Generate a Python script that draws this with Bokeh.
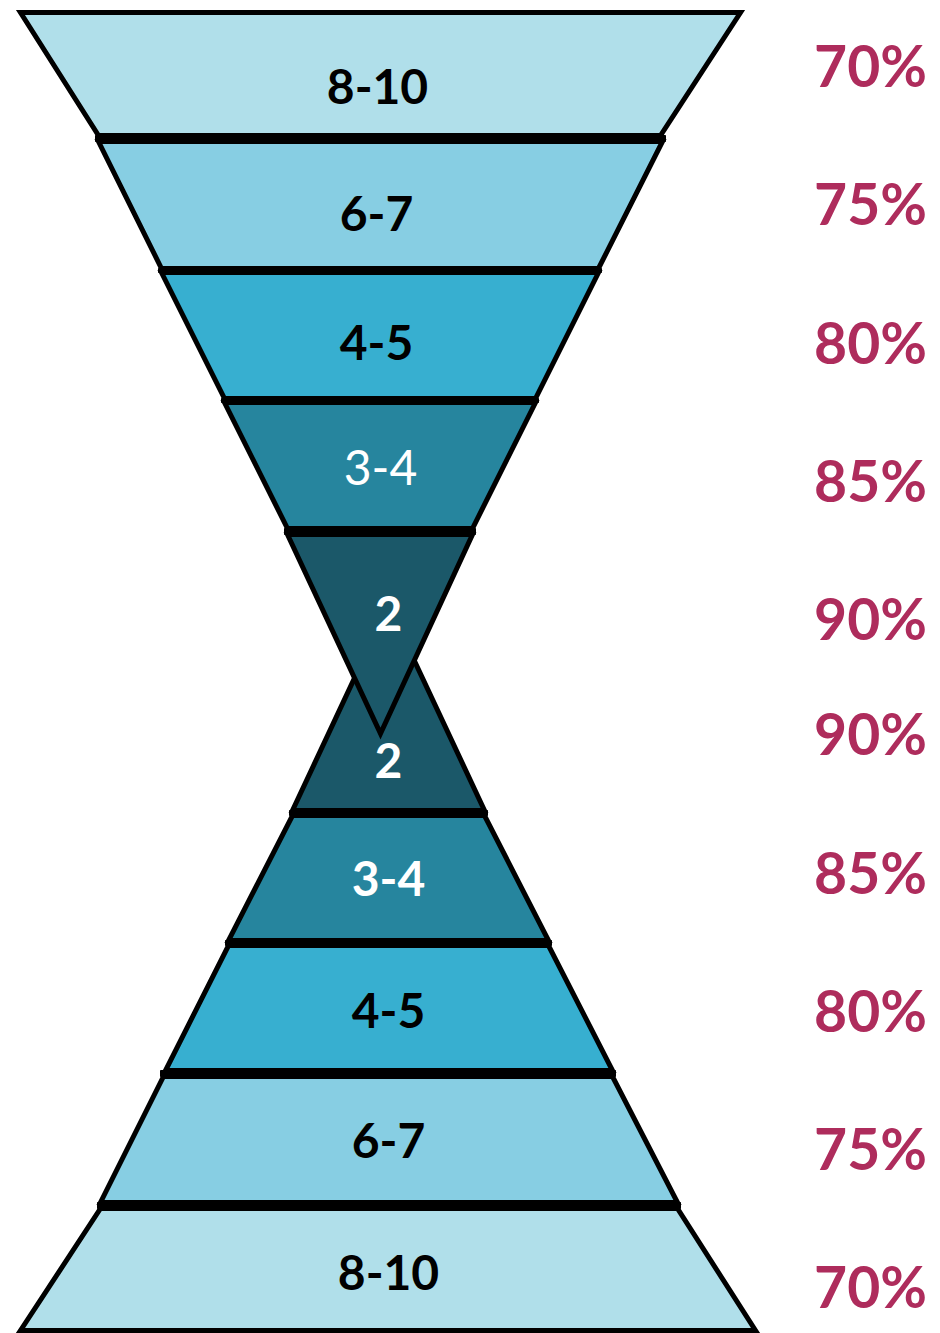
from bokeh.plotting import figure
from bokeh.models import ColumnDataSource, Range1d
from bokeh.core.properties import value
from bokeh.embed import file_html
from bokeh.resources import INLINE

# ---- data ----
top_labels = ["8-10", "6-7", "4-5", "3-4", "2"]
bottom_labels = ["2", "3-4", "4-5", "6-7", "8-10"]
top_percents = ["70%", "75%", "80%", "85%", "90%"]
bottom_percents = ["90%", "85%", "80%", "75%", "70%"]

# ---- styles ----
top_fill = ["#B0DFEA", "#87CEE3", "#37AFD0", "#26859E", "#1B5869"]
bottom_fill = ["#1B5869", "#26859E", "#37AFD0", "#87CEE3", "#B0DFEA"]
top_text_color = ["black", "black", "black", "white", "white"]
bottom_text_color = ["white", "white", "black", "black", "black"]
top_text_style = ["bold", "bold", "bold", "normal", "bold"]
bottom_text_style = ["bold", "bold", "bold", "bold", "bold"]
pct_color = "#AE2C5C"

# ---- layout (pixel space) ----
up_y = [(12, 135), (141, 268), (272, 398), (402, 528), (534, 733)]
up_x_top = [(20, 740), (98, 662), (161, 598), (224, 535), (287, 472)]
up_x_bot = [(98, 660), (161, 598), (224, 535), (287, 472), (380, 380)]
up_label_xy = [(377, 86), (376, 213), (376, 342), (380, 467), (388, 613)]
lo_y = [(605, 810), (815, 940), (945, 1070), (1076, 1202), (1208, 1330)]
lo_x_top = [(388, 388), (292, 484), (228, 548), (163, 612), (100, 677)]
lo_x_bot = [(292, 484), (228, 548), (165, 612), (100, 677), (20, 755)]
lo_label_xy = [(388, 760), (388, 878), (388, 1010), (388, 1140), (388, 1272)]
pct_y_top = [64, 202, 341, 479, 617]
pct_y_bot = [732, 871, 1009, 1147, 1285]
pct_x = 870


def polys(ys, xt, xb):
    xs_all, ys_all = [], []
    for (y0, y1), (a0, a1), (b0, b1) in zip(ys, xt, xb):
        if a0 == a1:
            xs_all.append([a0, b1, b0]); ys_all.append([y0, y1, y1])
        elif b0 == b1:
            xs_all.append([a0, a1, b0]); ys_all.append([y0, y0, y1])
        else:
            xs_all.append([a0, a1, b1, b0]); ys_all.append([y0, y0, y1, y1])
    return xs_all, ys_all


def bars(ys, xt, xb):
    bx, by = [], []
    for i in range(len(ys) - 1):
        y0 = ys[i][1]
        y1 = ys[i + 1][0]
        l = min(xb[i][0], xt[i + 1][0]) - 3
        r = max(xb[i][1], xt[i + 1][1]) + 3
        bx.append([l, r, r, l]); by.append([y0, y0, y1, y1])
    return bx, by


p = figure(width=940, height=1333, output_backend="svg", toolbar_location=None,
           x_range=Range1d(0, 940), y_range=Range1d(1333, 0), min_border=0)
p.axis.visible = False
p.grid.visible = False
p.outline_line_color = None
p.background_fill_color = "white"

lx, ly = polys(lo_y, lo_x_top, lo_x_bot)
ux, uy = polys(up_y, up_x_top, up_x_bot)

lo_src = ColumnDataSource(dict(xs=lx, ys=ly, fill=bottom_fill))
up_src = ColumnDataSource(dict(xs=ux, ys=uy, fill=top_fill))
p.patches("xs", "ys", source=lo_src, fill_color="fill", line_color="black",
          line_width=5, line_join="miter")
lbx, lby = bars(lo_y, lo_x_top, lo_x_bot)
p.patches(lbx, lby, fill_color="black", line_color="black", line_width=1)
p.patches("xs", "ys", source=up_src, fill_color="fill", line_color="black",
          line_width=5, line_join="miter")
ubx, uby = bars(up_y, up_x_top, up_x_bot)
p.patches(ubx, uby, fill_color="black", line_color="black", line_width=1)

up_t = ColumnDataSource(dict(x=[a for a, b in up_label_xy], y=[b for a, b in up_label_xy],
                             t=top_labels, c=top_text_color, s=top_text_style))
lo_t = ColumnDataSource(dict(x=[a for a, b in lo_label_xy], y=[b for a, b in lo_label_xy],
                             t=bottom_labels, c=bottom_text_color, s=bottom_text_style))
for src in (up_t, lo_t):
    p.text("x", "y", text="t", source=src, text_color="c", text_font_style="s",
           text_font=value("Lato"), text_font_size="48px",
           text_align="center", text_baseline="middle")

pct_src = ColumnDataSource(dict(x=[pct_x] * 10, y=pct_y_top + pct_y_bot,
                                t=top_percents + bottom_percents))
p.text("x", "y", text="t", source=pct_src, text_color=pct_color,
       text_font_style="bold", text_font=value("Lato"), text_font_size="57px",
       text_align="center", text_baseline="middle")

open("out.html", "w").write(file_html(p, INLINE))
